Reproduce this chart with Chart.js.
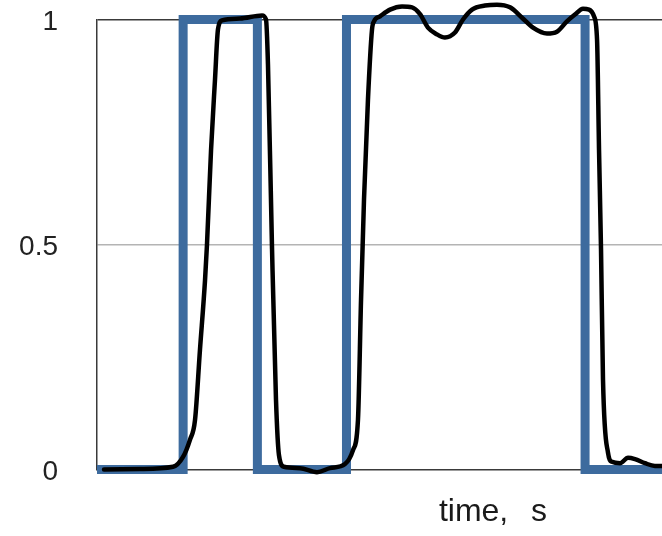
<!DOCTYPE html>
<html>
<head>
<meta charset="utf-8">
<script src="https://cdn.jsdelivr.net/npm/chart.js@4.4.0/dist/chart.umd.min.js"></script>
<style>
  html, body { margin: 0; padding: 0; background: #ffffff; overflow: hidden; }
  #wrap { width: 662px; height: 536px; overflow: hidden; position: relative; }
  canvas { display: block; }
</style>
</head>
<body>
<div id="wrap"><canvas id="c" width="890" height="536"></canvas></div>
<script>
// Input square wave (step changes), time in s
const stepTime  = [0, 0.87, 1.62, 2.52, 4.93, 8];
const stepValue = [0, 1, 0, 1, 0, 0];

// Measured response (black curve)
const respTime = [0.071, 0.434, 0.768, 0.869, 0.939, 0.990, 1.040, 1.091, 1.111, 1.152, 1.192, 1.222, 1.263, 1.444, 1.667, 1.707, 1.727,
  1.768, 1.808, 1.838, 1.889, 2.051, 2.222, 2.354, 2.505, 2.586, 2.636, 2.667, 2.697, 2.737, 2.778, 2.798, 2.859, 2.960,
  3.081, 3.182, 3.263, 3.343, 3.434, 3.515, 3.616, 3.697, 3.788, 3.919, 4.040, 4.172, 4.293, 4.404, 4.545, 4.646, 4.747,
  4.828, 4.909, 4.970, 5.020, 5.051, 5.071, 5.091, 5.111, 5.162, 5.202, 5.283, 5.364, 5.434, 5.535, 5.636, 5.707, 5.889];
const respValue = [0.0, 0.001, 0.006, 0.028, 0.066, 0.11, 0.266, 0.42, 0.50, 0.71, 0.867, 0.978, 0.998, 1.002, 1.009, 1.0, 0.9,
  0.49, 0.155, 0.032, 0.006, 0.003, -0.006, 0.003, 0.012, 0.043, 0.11, 0.377, 0.6, 0.822, 0.978, 0.996, 1.007, 1.022,
  1.029, 1.027, 1.012, 0.982, 0.967, 0.96, 0.971, 1.0, 1.022, 1.031, 1.033, 1.027, 1.004, 0.982, 0.969, 0.973, 0.996,
  1.011, 1.024, 1.022, 1.007, 0.955, 0.71, 0.49, 0.2, 0.037, 0.017, 0.014, 0.026, 0.023, 0.014, 0.008, 0.008, 0.006];

const yTickValues = [0, 0.5, 1];
const yTickLabels = ['0', '0.5', '1'];
const xAxisTitle = 'time, s';

const stepData = stepTime.map((t, i) => ({ x: t, y: stepValue[i] }));
const respData = respTime.map((t, i) => ({ x: t, y: respValue[i] }));

const FONT = "'Liberation Sans', Arial, Helvetica, sans-serif";

const wordSpacingPlugin = {
  id: 'wordSpacing',
  beforeDraw(chart) {
    if ('wordSpacing' in chart.ctx) chart.ctx.wordSpacing = '14px';
  }
};

new Chart(document.getElementById('c'), {
  type: 'line',
  plugins: [wordSpacingPlugin],
  data: {
    datasets: [
      {
        label: 'response',
        data: respData,
        borderColor: '#000000',
        borderWidth: 4.5,
        pointRadius: 0,
        cubicInterpolationMode: 'monotone',
        borderCapStyle: 'round',
        borderJoinStyle: 'round',
        fill: false,
        clip: false
      },
      {
        label: 'input',
        data: stepData,
        borderColor: '#3d6b9e',
        borderWidth: 9,
        pointRadius: 0,
        stepped: 'before',
        borderJoinStyle: 'miter',
        borderCapStyle: 'butt',
        fill: false,
        clip: false
      }
    ]
  },
  options: {
    responsive: false,
    animation: false,
    devicePixelRatio: 1,
    layout: { padding: { top: 19.5, right: 1, bottom: 0, left: 0 } },
    plugins: { legend: { display: false }, tooltip: { enabled: false } },
    scales: {
      x: {
        type: 'linear',
        min: 0,
        max: 8,
        grid: { display: false },
        border: { display: false },
        ticks: { display: false },
        title: {
          display: true,
          text: xAxisTitle,
          color: '#1a1a1a',
          font: { family: FONT, size: 32 },
          padding: { top: 0, bottom: 5 }
        },
        afterFit: (s) => { s.height = 66.5; s.paddingLeft = 0; s.paddingRight = 0; }
      },
      y: {
        type: 'linear',
        min: 0,
        max: 1,
        afterBuildTicks: (s) => { s.ticks = yTickValues.map(v => ({ value: v })); },
        ticks: {
          padding: 39,
          color: '#222222',
          labelOffset: 2.5,
          font: { family: FONT, size: 28 },
          callback: (v) => { const i = yTickValues.indexOf(v); return i >= 0 ? yTickLabels[i] : ''; }
        },
        grid: {
          drawTicks: false,
          lineWidth: 1.5,
          color: (ctx) => (ctx.tick && ctx.tick.value === 0.5) ? '#b4b4b4' : '#3a3a3a'
        },
        border: { display: true, color: '#3a3a3a', width: 1.5 },
        afterFit: (s) => { s.width = 97; s.paddingTop = 0; s.paddingBottom = 0; }
      }
    }
  }
});
</script>
</body>
</html>
